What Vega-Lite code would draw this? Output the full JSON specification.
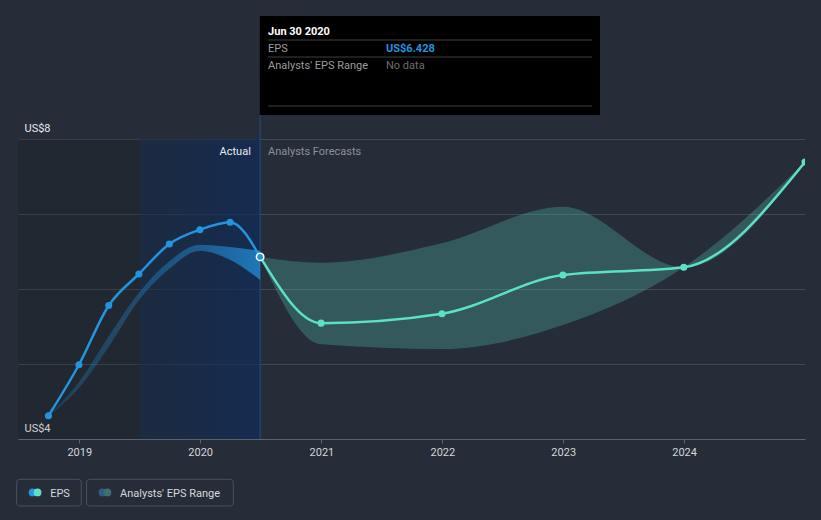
{
  "$schema": "https://vega.github.io/schema/vega-lite/v6.json",
  "width": 787,
  "height": 300,
  "autosize": {"type": "none"},
  "padding": {"left": 18, "top": 139, "right": 16, "bottom": 81},
  "background": "#262d39",
  "config": {
    "view": {"stroke": null},
    "font": "Roboto",
    "text": {"font": "Roboto", "fontSize": 11}
  },
  "datasets": {
    "one": [{}],
    "actual": [
      {"date": "2018-09-30", "eps": 4.31},
      {"date": "2018-12-31", "eps": 4.99},
      {"date": "2019-03-31", "eps": 5.78},
      {"date": "2019-06-30", "eps": 6.2},
      {"date": "2019-09-30", "eps": 6.6},
      {"date": "2019-12-31", "eps": 6.79},
      {"date": "2020-03-31", "eps": 6.89},
      {"date": "2020-06-30", "eps": 6.428}
    ],
    "forecast": [
      {"date": "2020-06-30", "eps": 6.428},
      {"date": "2020-12-31", "eps": 5.545},
      {"date": "2021-12-31", "eps": 5.67},
      {"date": "2022-12-31", "eps": 6.187},
      {"date": "2023-12-31", "eps": 6.289},
      {"date": "2024-12-31", "eps": 7.693}
    ],
    "pastRange": [
      {"date": "2018-09-30", "low": 4.31, "high": 4.31},
      {"date": "2018-12-31", "low": 4.68, "high": 4.76},
      {"date": "2019-03-31", "low": 5.23, "high": 5.37},
      {"date": "2019-06-30", "low": 5.85, "high": 5.95},
      {"date": "2019-09-30", "low": 6.27, "high": 6.37},
      {"date": "2019-12-31", "low": 6.51, "high": 6.59},
      {"date": "2020-03-31", "low": 6.39, "high": 6.56},
      {"date": "2020-06-30", "low": 6.12, "high": 6.51}
    ],
    "forecastRange": [
      {"date": "2020-06-30", "low": 6.428, "high": 6.428},
      {"date": "2020-12-31", "low": 5.263, "high": 6.35},
      {"date": "2021-12-31", "low": 5.2, "high": 6.61},
      {"date": "2022-12-31", "low": 5.52, "high": 7.097},
      {"date": "2023-12-31", "low": 6.289, "high": 6.289},
      {"date": "2024-12-31", "low": 7.693, "high": 7.693}
    ]
  },
  "layer": [
    {
      "data": {"name": "one"},
      "mark": {"type": "rect", "color": "#000000", "opacity": 0.11},
      "encoding": {
        "x": {
          "datum": {"year": 2018, "month": 6, "date": 30, "utc": true},
          "type": "temporal",
          "scale": {
            "type": "utc",
            "domain": [
              {"year": 2018, "month": 6, "date": 30, "utc": true},
              {"year": 2024, "month": 12, "date": 31, "utc": true}
            ]
          },
          "axis": {
            "title": null,
            "values": [
              {"year": 2019, "month": 1, "date": 1, "utc": true},
              {"year": 2020, "month": 1, "date": 1, "utc": true},
              {"year": 2021, "month": 1, "date": 1, "utc": true},
              {"year": 2022, "month": 1, "date": 1, "utc": true},
              {"year": 2023, "month": 1, "date": 1, "utc": true},
              {"year": 2024, "month": 1, "date": 1, "utc": true}
            ],
            "format": "%Y",
            "grid": false,
            "domainColor": "#5d636e",
            "tickColor": "#5d636e",
            "tickSize": 4,
            "labelColor": "#d3d6db",
            "labelFont": "Roboto",
            "labelFontSize": 11,
            "labelPadding": 3,
            "labelFlush": false
          }
        },
        "x2": {"datum": {"year": 2019, "month": 6, "date": 30, "utc": true}},
        "y": {
          "datum": 8,
          "type": "quantitative",
          "scale": {"domain": [4, 8], "nice": false, "zero": false},
          "axis": {
            "title": null,
            "values": [4, 5, 6, 7, 8],
            "grid": true,
            "gridColor": "#414753",
            "gridWidth": 1,
            "domain": false,
            "ticks": false,
            "tickSize": 0,
            "labelAlign": "left",
            "labelPadding": -6,
            "labelBaseline": "alphabetic",
            "labelOffset": -8,
            "labelExpr": "datum.value == 4 || datum.value == 8 ? 'US$' + datum.value : ''",
            "labelColor": "#e6e8eb",
            "labelFont": "Roboto",
            "labelFontSize": 11,
            "labelOverlap": false,
            "labelFlush": false,
            "labelBound": false
          }
        },
        "y2": {"datum": 4}
      }
    },
    {
      "data": {"name": "one"},
      "mark": {
        "type": "rect",
        "color": {
          "gradient": "linear",
          "stops": [
            {"offset": 0, "color": "rgba(21,41,68,0.6)"},
            {"offset": 1, "color": "rgba(13,42,92,0.68)"}
          ]
        }
      },
      "encoding": {
        "x": {"datum": {"year": 2019, "month": 6, "date": 30, "utc": true}, "type": "temporal"},
        "x2": {"datum": {"year": 2020, "month": 6, "date": 30, "utc": true}},
        "y": {"datum": 8, "type": "quantitative"},
        "y2": {"datum": 4}
      }
    },
    {
      "data": {"name": "one"},
      "mark": {"type": "rule", "color": "#1f4f86", "strokeWidth": 1},
      "encoding": {
        "x": {"datum": {"year": 2020, "month": 6, "date": 30, "utc": true}, "type": "temporal"},
        "y": {"datum": 8.32, "type": "quantitative"},
        "y2": {"datum": 4}
      }
    },
    {
      "data": {"name": "pastRange"},
      "mark": {
        "type": "area",
        "interpolate": "monotone",
        "color": {
          "gradient": "linear",
          "x1": 0, "y1": 0, "x2": 1, "y2": 0,
          "stops": [
            {"offset": 0, "color": "rgba(35,148,223,0.22)"},
            {"offset": 0.42, "color": "rgba(35,148,223,0.32)"},
            {"offset": 0.72, "color": "rgba(35,148,223,0.47)"},
            {"offset": 1, "color": "rgba(35,148,223,0.72)"}
          ]
        }
      },
      "encoding": {
        "x": {"field": "date", "type": "temporal"},
        "y": {"field": "high", "type": "quantitative"},
        "y2": {"field": "low"}
      }
    },
    {
      "data": {"name": "forecastRange"},
      "mark": {"type": "area", "interpolate": "monotone", "color": "#5ce1c6", "opacity": 0.25},
      "encoding": {
        "x": {"field": "date", "type": "temporal"},
        "y": {"field": "high", "type": "quantitative"},
        "y2": {"field": "low"}
      }
    },
    {
      "data": {"name": "actual"},
      "mark": {"type": "line", "interpolate": "monotone", "color": "#2394df", "strokeWidth": 2.5},
      "encoding": {
        "x": {"field": "date", "type": "temporal"},
        "y": {"field": "eps", "type": "quantitative"}
      }
    },
    {
      "data": {"name": "forecast"},
      "mark": {"type": "line", "interpolate": "monotone", "color": "#5ce1c6", "strokeWidth": 2.5, "clip": true},
      "encoding": {
        "x": {"field": "date", "type": "temporal"},
        "y": {"field": "eps", "type": "quantitative"}
      }
    },
    {
      "data": {"name": "actual"},
      "mark": {"type": "circle", "color": "#2394df", "size": 50, "opacity": 1},
      "encoding": {
        "x": {"field": "date", "type": "temporal"},
        "y": {"field": "eps", "type": "quantitative"}
      }
    },
    {
      "data": {"name": "forecast"},
      "transform": [{"filter": "datum.eps != 6.428"}],
      "mark": {"type": "circle", "color": "#5ce1c6", "size": 50, "opacity": 1, "clip": true},
      "encoding": {
        "x": {"field": "date", "type": "temporal"},
        "y": {"field": "eps", "type": "quantitative"}
      }
    },
    {
      "data": {"name": "actual"},
      "transform": [{"filter": "datum.eps == 6.428"}],
      "mark": {"type": "circle", "color": "#2394df", "size": 55, "opacity": 1, "stroke": "#ffffff", "strokeWidth": 1.5},
      "encoding": {
        "x": {"field": "date", "type": "temporal"},
        "y": {"field": "eps", "type": "quantitative"}
      }
    },
    {
      "data": {"name": "one"},
      "mark": {"type": "text", "align": "right", "baseline": "alphabetic", "color": "#e8eaed", "fontSize": 11},
      "encoding": {
        "x": {"datum": {"year": 2020, "month": 6, "date": 2, "utc": true}, "type": "temporal"},
        "y": {"datum": 7.787, "type": "quantitative"},
        "text": {"value": "Actual"}
      }
    },
    {
      "data": {"name": "one"},
      "mark": {"type": "text", "align": "left", "baseline": "alphabetic", "color": "#8b9099", "fontSize": 11},
      "encoding": {
        "x": {"datum": {"year": 2020, "month": 7, "date": 24, "utc": true}, "type": "temporal"},
        "y": {"datum": 7.787, "type": "quantitative"},
        "text": {"value": "Analysts Forecasts"}
      }
    },
    {
      "data": {"name": "one"},
      "mark": {"type": "rect", "color": "#000000", "opacity": 1},
      "encoding": {
        "x": {"datum": {"year": 2020, "month": 6, "date": 29, "utc": true}, "type": "temporal"},
        "x2": {"datum": {"year": 2023, "month": 4, "date": 22, "utc": true}},
        "y": {"datum": 9.64, "type": "quantitative"},
        "y2": {"datum": 8.32}
      }
    },
    {
      "data": {"name": "one"},
      "mark": {"type": "rule", "color": "#3f3f3f", "strokeWidth": 1},
      "encoding": {
        "x": {"datum": {"year": 2020, "month": 7, "date": 24, "utc": true}, "type": "temporal"},
        "x2": {"datum": {"year": 2023, "month": 3, "date": 29, "utc": true}},
        "y": {"datum": 9.32, "type": "quantitative"}
      }
    },
    {
      "data": {"name": "one"},
      "mark": {"type": "rule", "color": "#3f3f3f", "strokeWidth": 1},
      "encoding": {
        "x": {"datum": {"year": 2020, "month": 7, "date": 24, "utc": true}, "type": "temporal"},
        "x2": {"datum": {"year": 2023, "month": 3, "date": 29, "utc": true}},
        "y": {"datum": 9.093, "type": "quantitative"}
      }
    },
    {
      "data": {"name": "one"},
      "mark": {"type": "rule", "color": "#3f3f3f", "strokeWidth": 1},
      "encoding": {
        "x": {"datum": {"year": 2020, "month": 7, "date": 24, "utc": true}, "type": "temporal"},
        "x2": {"datum": {"year": 2023, "month": 3, "date": 29, "utc": true}},
        "y": {"datum": 8.44, "type": "quantitative"}
      }
    },
    {
      "data": {"name": "one"},
      "mark": {"type": "text", "align": "left", "baseline": "alphabetic", "color": "#ffffff", "fontSize": 11, "fontWeight": "bold"},
      "encoding": {
        "x": {"datum": {"year": 2020, "month": 7, "date": 24, "utc": true}, "type": "temporal"},
        "y": {"datum": 9.387, "type": "quantitative"},
        "text": {"value": "Jun 30 2020"}
      }
    },
    {
      "data": {"name": "one"},
      "mark": {"type": "text", "align": "left", "baseline": "alphabetic", "color": "#9c9c9c", "fontSize": 11},
      "encoding": {
        "x": {"datum": {"year": 2020, "month": 7, "date": 24, "utc": true}, "type": "temporal"},
        "y": {"datum": 9.156, "type": "quantitative"},
        "text": {"value": "EPS"}
      }
    },
    {
      "data": {"name": "one"},
      "mark": {"type": "text", "align": "left", "baseline": "alphabetic", "color": "#2394df", "fontSize": 11, "fontWeight": "bold"},
      "encoding": {
        "x": {"datum": {"year": 2021, "month": 7, "date": 15, "utc": true}, "type": "temporal"},
        "y": {"datum": 9.156, "type": "quantitative"},
        "text": {"value": "US$6.428"}
      }
    },
    {
      "data": {"name": "one"},
      "mark": {"type": "text", "align": "left", "baseline": "alphabetic", "color": "#9c9c9c", "fontSize": 11},
      "encoding": {
        "x": {"datum": {"year": 2020, "month": 7, "date": 24, "utc": true}, "type": "temporal"},
        "y": {"datum": 8.937, "type": "quantitative"},
        "text": {"value": "Analysts' EPS Range"}
      }
    },
    {
      "data": {"name": "one"},
      "mark": {"type": "text", "align": "left", "baseline": "alphabetic", "color": "#6e6e6e", "fontSize": 11},
      "encoding": {
        "x": {"datum": {"year": 2021, "month": 7, "date": 15, "utc": true}, "type": "temporal"},
        "y": {"datum": 8.937, "type": "quantitative"},
        "text": {"value": "No data"}
      }
    },
    {
      "data": {"name": "one"},
      "mark": {"type": "rect", "fill": "#262d39", "fillOpacity": 0, "stroke": "#4a5160", "strokeWidth": 1, "cornerRadius": 3},
      "encoding": {
        "x": {"datum": {"year": 2018, "month": 6, "date": 26, "utc": true}, "type": "temporal"},
        "x2": {"datum": {"year": 2019, "month": 1, "date": 7, "utc": true}},
        "y": {"datum": 3.463, "type": "quantitative"},
        "y2": {"datum": 3.107}
      }
    },
    {
      "data": {"name": "one"},
      "mark": {"type": "rect", "fill": "#262d39", "fillOpacity": 0, "stroke": "#4a5160", "strokeWidth": 1, "cornerRadius": 3},
      "encoding": {
        "x": {"datum": {"year": 2019, "month": 1, "date": 23, "utc": true}, "type": "temporal"},
        "x2": {"datum": {"year": 2020, "month": 4, "date": 10, "utc": true}},
        "y": {"datum": 3.463, "type": "quantitative"},
        "y2": {"datum": 3.107}
      }
    },
    {
      "data": {"name": "one"},
      "mark": {"type": "circle", "color": "#2394df", "size": 60, "opacity": 1},
      "encoding": {
        "x": {"datum": {"year": 2018, "month": 8, "date": 13, "utc": true}, "type": "temporal"},
        "y": {"datum": 3.287, "type": "quantitative"}
      }
    },
    {
      "data": {"name": "one"},
      "mark": {"type": "circle", "color": "#5ce1c6", "size": 60, "opacity": 1},
      "encoding": {
        "x": {"datum": {"year": 2018, "month": 8, "date": 28, "utc": true}, "type": "temporal"},
        "y": {"datum": 3.287, "type": "quantitative"}
      }
    },
    {
      "data": {"name": "one"},
      "mark": {"type": "circle", "color": "#2b5d86", "size": 60, "opacity": 1},
      "encoding": {
        "x": {"datum": {"year": 2019, "month": 3, "date": 12, "utc": true}, "type": "temporal"},
        "y": {"datum": 3.287, "type": "quantitative"}
      }
    },
    {
      "data": {"name": "one"},
      "mark": {"type": "circle", "color": "#3f6f6e", "size": 60, "opacity": 1},
      "encoding": {
        "x": {"datum": {"year": 2019, "month": 3, "date": 27, "utc": true}, "type": "temporal"},
        "y": {"datum": 3.287, "type": "quantitative"}
      }
    },
    {
      "data": {"name": "one"},
      "mark": {"type": "text", "align": "left", "baseline": "alphabetic", "color": "#d5d8dc", "fontSize": 11},
      "encoding": {
        "x": {"datum": {"year": 2018, "month": 10, "date": 5, "utc": true}, "type": "temporal"},
        "y": {"datum": 3.231, "type": "quantitative"},
        "text": {"value": "EPS"}
      }
    },
    {
      "data": {"name": "one"},
      "mark": {"type": "text", "align": "left", "baseline": "alphabetic", "color": "#d5d8dc", "fontSize": 11},
      "encoding": {
        "x": {"datum": {"year": 2019, "month": 5, "date": 4, "utc": true}, "type": "temporal"},
        "y": {"datum": 3.231, "type": "quantitative"},
        "text": {"value": "Analysts' EPS Range"}
      }
    }
  ]
}
